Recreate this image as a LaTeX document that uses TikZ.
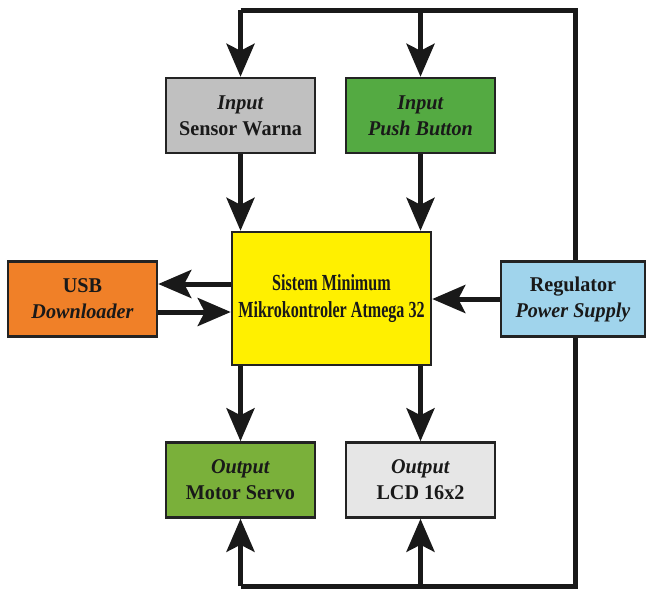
\documentclass[tikz,border=0pt]{standalone}
\usepackage{fontspec}
\setmainfont{Liberation Serif}
\newfontfamily\condfont[FakeStretch=0.70]{Liberation Serif}
\newfontfamily\sidefont[FakeStretch=0.96]{Liberation Serif}
\usetikzlibrary{arrows.meta,backgrounds}
\definecolor{gbox}{RGB}{192,192,192}
\definecolor{pbox}{RGB}{84,170,66}
\definecolor{ybox}{RGB}{255,240,0}
\definecolor{obox}{RGB}{240,128,40}
\definecolor{bbox}{RGB}{160,212,236}
\definecolor{mbox}{RGB}{122,176,58}
\definecolor{lbox}{RGB}{230,230,230}
\definecolor{boxline}{RGB}{35,35,35}
\definecolor{txt}{RGB}{25,25,25}
\begin{document}
\begin{tikzpicture}[x=1pt,y=-1pt,
  box/.style={draw=boxline, line width=2.5pt, minimum width=149pt, minimum height=75pt,
    inner sep=0pt, align=center, text=txt, font=\sidefont\bfseries\fontsize{21}{26}\selectfont},
  conn/.style={line width=5pt, draw=black!90, line join=miter},
  arr/.style={conn, -{Stealth[length=33pt,width=28pt,inset=7pt]}}]
\useasboundingbox (0,0) rectangle (647,590);
\coordinate (tr) at (575,10);
\coordinate (br) at (575,586);
\node[box, fill=gbox] (sensor) at (240.5,115.5) {\textit{Input}\\Sensor Warna};
\node[box, fill=pbox] (push) at (420.5,115.5) {\textit{Input}\\\textit{Push Button}};
\node[box, fill=ybox, minimum width=199pt, minimum height=133pt,
  font=\condfont\bfseries\fontsize{23}{27}\selectfont] (mcu) at (331.5,298.5)
  {Sistem Minimum\\Mikrokontroler Atmega 32};
\node[box, fill=obox] (usb) at (82.5,299) {USB\\\textit{Downloader}};
\node[box, fill=bbox, minimum width=144pt] (reg) at (573,299) {Regulator\\\textit{Power Supply}};
\node[box, fill=mbox] (servo) at (240.5,480) {\textit{Output}\\Motor Servo};
\node[box, fill=lbox] (lcd) at (420.5,480) {\textit{Output}\\LCD 16x2};
\begin{pgfonlayer}{background}
\draw[conn] (sensor.north |- tr) -- (tr) -- (br) -- (servo.south |- br);
\end{pgfonlayer}
\draw[arr] (sensor.north |- tr) -- (sensor.north);
\draw[arr] (push.north |- tr) -- (push.north);
\draw[arr] (sensor.south) -- (sensor.south |- mcu.north);
\draw[arr] (push.south) -- (push.south |- mcu.north);
\draw[arr] (servo.south |- mcu.south) -- (servo.north);
\draw[arr] (lcd.north |- mcu.south) -- (lcd.north);
\draw[arr] (servo.south |- br) -- (servo.south);
\draw[arr] (lcd.south |- br) -- (lcd.south);
\coordinate (uo) at (0,284);
\coordinate (ui) at (0,312);
\draw[arr] (mcu.west |- uo) -- (usb.east |- uo);
\draw[arr] (usb.east |- ui) -- (mcu.west |- ui);
\draw[arr] (reg.west) -- (mcu.east |- reg.west);
\end{tikzpicture}
\end{document}
